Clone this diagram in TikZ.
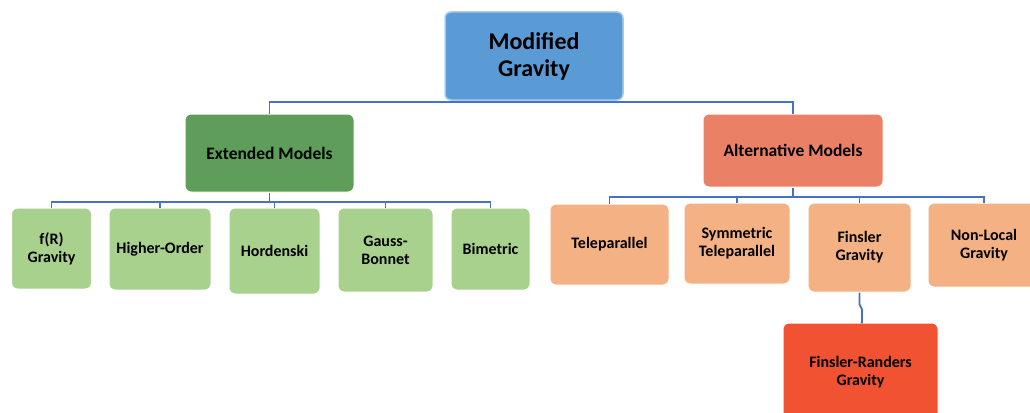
\documentclass[tikz,border=0pt]{standalone}
\usepackage{fontspec}
\setmainfont{Carlito}
\begin{document}
\begin{tikzpicture}[x=1pt,y=-1pt,
  box/.style={rounded corners=6pt, align=center, inner sep=2pt, font=\bfseries, text=black},
  root/.style={box, fill=mgblue, draw=mgborder, line width=1.5pt, font=\bfseries\fontsize{24}{27}\selectfont},
  mid/.style={box, draw=white, line width=1pt, font=\bfseries\fontsize{17.5}{20}\selectfont},
  leaf/.style={box, draw=white, line width=1pt, font=\bfseries\fontsize{16}{18}\selectfont},
  link/.style={draw=linkblue, line width=1.8pt}
]
\definecolor{mgblue}{HTML}{5B9BD5}
\definecolor{mgborder}{HTML}{A9CBEA}
\definecolor{extgreen}{HTML}{5E9E5A}
\definecolor{leafgreen}{HTML}{A9D18E}
\definecolor{altorange}{HTML}{EA8066}
\definecolor{leaforange}{HTML}{F4B183}
\definecolor{frred}{HTML}{F05232}
\definecolor{linkblue}{HTML}{4472C4}

\useasboundingbox (0,0) rectangle (1030,412);

% top level
\node[root, minimum width=178, minimum height=88] (mg) at (534,56) {Modified\\Gravity};

% second level
\node[mid, fill=extgreen, minimum width=169, minimum height=78] (em) at (269.5,153) {Extended Models};
\node[mid, fill=altorange, minimum width=180, minimum height=73] (am) at (793,150.5) {Alternative Models};

% extended models
\node[leaf, fill=leafgreen, minimum width=80, minimum height=81] (fr) at (51.5,248.5) {f(R)\\Gravity};
\node[leaf, fill=leafgreen, minimum width=102, minimum height=82] (ho) at (160,249) {Higher-Order};
\node[leaf, fill=leafgreen, minimum width=91, minimum height=86] (hd) at (274.5,251) {Hordenski};
\node[leaf, fill=leafgreen, minimum width=95, minimum height=84] (gb) at (385.5,250) {Gauss-\\Bonnet};
\node[leaf, fill=leafgreen, minimum width=79, minimum height=82] (bm) at (490.5,249) {Bimetric};

% alternative models
\node[leaf, fill=leaforange, minimum width=119, minimum height=81] (tp) at (609.5,244.5) {Teleparallel};
\node[leaf, fill=leaforange, minimum width=106, minimum height=81] (st) at (737,243.5) {Symmetric\\Teleparallel};
\node[leaf, fill=leaforange, minimum width=103, minimum height=89] (fg) at (859.5,247.5) {Finsler\\Gravity};
\node[leaf, fill=leaforange, minimum width=112, minimum height=84] (nl) at (984,245) {Non-Local\\Gravity};
\node[leaf, fill=frred, minimum width=155, minimum height=99] (frg) at (860.5,372.5) {Finsler-Randers\\Gravity};

% bus levels
\coordinate (bus1) at (0,102);
\coordinate (bus2) at (0,202);
\coordinate (bus3) at (0,197);

\draw[link] (mg.south) -- (mg.south |- bus1);
\draw[link] (em.north) -- (em.north |- bus1) -- (am.north |- bus1) -- (am.north);

\draw[link] (em.south) -- (em.south |- bus2);
\draw[link] (fr.north) -- (fr.north |- bus2) -- (bm.north |- bus2) -- (bm.north);
\foreach \c in {ho,hd,gb} \draw[link] (\c.north) -- (\c.north |- bus2);

\draw[link] (am.south) -- (am.south |- bus3);
\draw[link] (tp.north) -- (tp.north |- bus3) -- (nl.north |- bus3) -- (nl.north);
\foreach \c in {st,fg} \draw[link] (\c.north) -- (\c.north |- bus3);

\draw[link] (fg.south) -- ++(0,12) -- ++(2.5,5) |- (frg.north);
\end{tikzpicture}
\end{document}
